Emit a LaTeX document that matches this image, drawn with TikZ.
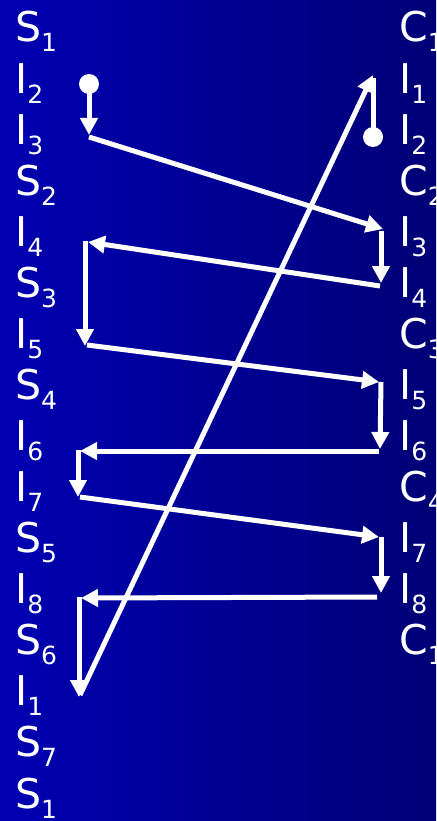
\documentclass[tikz,border=0pt]{standalone}
\usepackage{fontspec}
\setmainfont{DejaVu Sans}
\usepackage{xcolor}
\usepackage{tikz}
\usetikzlibrary{arrows.meta}
\definecolor{fondoizq}{RGB}{0,0,178}
\definecolor{fondoder}{RGB}{0,0,118}
% Etiqueta con subindice
\newcommand{\etiq}[2]{{\fontsize{41}{41}\selectfont #1\raisebox{-10pt}{\fontsize{25}{25}\selectfont #2}}}

\begin{document}
\begin{tikzpicture}[x=1pt, y=-1pt]
    % Definición de estilos
    \tikzstyle{etiqueta}=[white, inner sep=0pt, anchor=base west]
    \tikzstyle{salto}=[white, line width=5pt, -{Triangle[length=17pt, width=17pt]}]
    \tikzstyle{enlace}=[white, line width=5pt]
    % Fondo degradado
    \useasboundingbox (0,0) rectangle (436,821);
    \clip (0,0) rectangle (436,821);
    \shade[left color=fondoizq, right color=fondoder] (0,0) rectangle (436,821);
    % Columna izquierda
    \foreach \a/\b [count=\k from 0] in {S/1, I/2, I/3, S/2, I/4, S/3, I/5, S/4, I/6, I/7, S/5, I/8, S/6, I/1, S/7, S/1}
        \node[etiqueta] (L\k) at ({15},{42+51.07*\k}) {\etiq{\a}{\b}};
    % Columna derecha
    \foreach \a/\b [count=\k from 0] in {C/1, I/1, I/2, C/2, I/3, I/4, C/3, I/5, I/6, C/4, I/7, I/8, C/1}
        \node[etiqueta] (R\k) at ({399},{42+51.07*\k}) {\etiq{\a}{\b}};
    % Puntos de quiebre del recorrido
    \coordinate (p1) at (89,84);
    \coordinate (p2) at (89,135);
    \coordinate (p3) at (89,137);
    \coordinate (p4) at (383,229);
    \coordinate (p5) at (381,231);
    \coordinate (p6) at (381,283);
    \coordinate (p7) at (380,286);
    \coordinate (p8) at (88,242);
    \coordinate (p9) at (85,241);
    \coordinate (p10) at (85,346);
    \coordinate (p11) at (87,345);
    \coordinate (p12) at (379,382);
    \coordinate (p13) at (381,382);
    \coordinate (p14) at (380,449);
    \coordinate (p15) at (379,451);
    \coordinate (p16) at (80,451);
    \coordinate (p17) at (78,450);
    \coordinate (p18) at (78,497);
    \coordinate (p19) at (80,497);
    \coordinate (p20) at (379,537);
    \coordinate (p21) at (381,537);
    \coordinate (p22) at (381,593);
    \coordinate (p23) at (377,597);
    \coordinate (p24) at (81,598);
    \coordinate (p25) at (79,597);
    \coordinate (p26) at (79,697);
    \coordinate (p27) at (80,695);
    \coordinate (p28) at (373,75);
    \coordinate (q1) at (373,137);
    \coordinate (q2) at (373,78);
    % Inicio del recorrido
    \fill[white] (p1) circle (10pt);
    \draw[salto] (p1) -- (p2);
    \draw[salto] (p3) -- (p4);
    \draw[salto] (p5) -- (p6);
    \draw[salto] (p7) -- (p8);
    \draw[salto] (p9) -- (p10);
    \draw[salto] (p11) -- (p12);
    \draw[salto] (p13) -- (p14);
    \draw[salto] (p15) -- (p16);
    \draw[salto] (p17) -- (p18);
    \draw[salto] (p19) -- (p20);
    \draw[salto] (p21) -- (p22);
    \draw[salto] (p23) -- (p24);
    \draw[salto] (p25) -- (p26);
    % Regreso largo hacia arriba
    \draw[salto] (p27) -- (p28);
    % Segundo punto con su enlace
    \fill[white] (q1) circle (10pt);
    \draw[enlace] (q1) -- (q2);
\end{tikzpicture}
\end{document}
